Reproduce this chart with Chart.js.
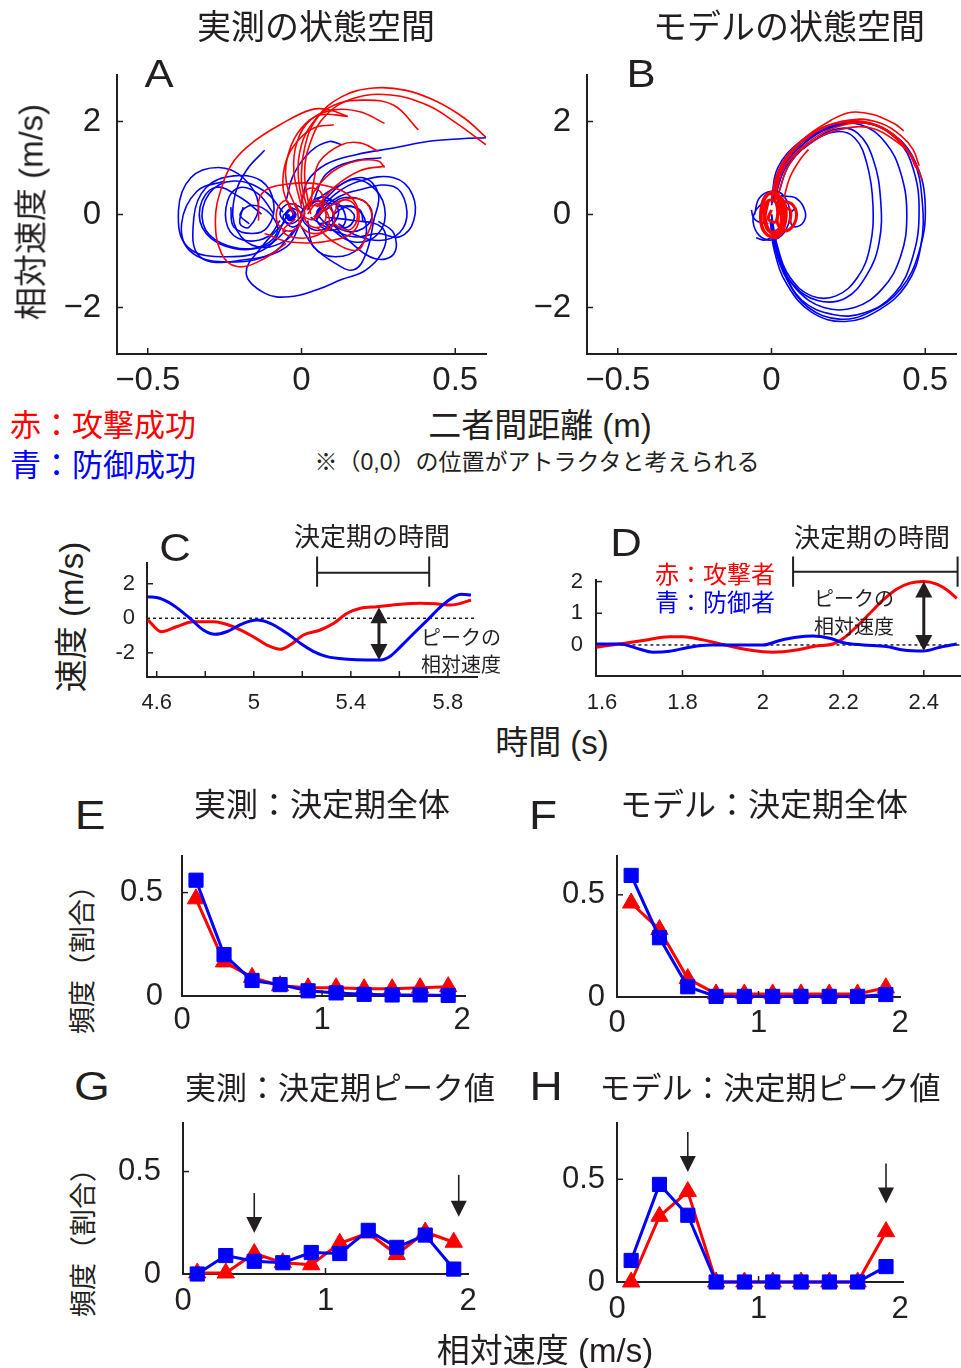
<!DOCTYPE html>
<html>
<head>
<meta charset="utf-8">
<script src="https://cdn.jsdelivr.net/npm/chart.js@4"></script>
<style>
body { margin: 0; background: #fff; }
#page { position: relative; width: 961px; height: 1368px; overflow: hidden; font-family: "Liberation Sans", "Noto Sans CJK JP", sans-serif; color: #231f20; }
canvas { position: absolute; }
.t { position: absolute; white-space: nowrap; line-height: 1; transform: translate(-50%, -50%); }
.v { position: absolute; white-space: nowrap; line-height: 1; transform: translate(-50%, -50%) rotate(-90deg); }
.k { position: absolute; white-space: nowrap; line-height: 1; transform: translate(-50%, -50%) scaleX(1.15); font-family: "Liberation Sans"; }
.r { color: #ff0000; }
.b { color: #0000ff; }
</style>
</head>
<body>
<div id="page">
  <canvas id="cA"></canvas>
  <canvas id="cB"></canvas>
  <canvas id="cC"></canvas>
  <canvas id="cD"></canvas>
  <canvas id="cE"></canvas>
  <canvas id="cF"></canvas>
  <canvas id="cG"></canvas>
  <canvas id="cH"></canvas>

  <div class="t" style="left:316px;top:27px;font-size:34px">実測の状態空間</div>
  <div class="t" style="left:789px;top:27px;font-size:34px">モデルの状態空間</div>
  <div class="k" style="left:159px;top:74px;font-size:38px">A</div>
  <div class="k" style="left:641px;top:74px;font-size:38px">B</div>
  <div class="v" style="left:31px;top:212px;font-size:33px">相対速度 (m/s)</div>
  <div class="t r" style="left:103px;top:425px;font-size:31px">赤：攻撃成功</div>
  <div class="t b" style="left:103px;top:465px;font-size:31px">青：防御成功</div>
  <div class="t" style="left:540px;top:425px;font-size:33px">二者間距離 (m)</div>
  <div class="t" style="left:537px;top:462px;font-size:23px">※（0,0）の位置がアトラクタと考えられる</div>

  <div class="k" style="left:175px;top:548px;font-size:38px">C</div>
  <div class="k" style="left:626px;top:543px;font-size:38px">D</div>
  <div class="t" style="left:372px;top:537px;font-size:26px">決定期の時間</div>
  <div class="t" style="left:872px;top:538px;font-size:26px">決定期の時間</div>
  <div class="t" style="left:461px;top:638px;font-size:20px">ピークの</div>
  <div class="t" style="left:461px;top:665px;font-size:20px">相対速度</div>
  <div class="t" style="left:854px;top:599px;font-size:20px">ピークの</div>
  <div class="t" style="left:854px;top:627px;font-size:20px">相対速度</div>
  <div class="t r" style="left:715px;top:575px;font-size:24px">赤：攻撃者</div>
  <div class="t b" style="left:715px;top:603px;font-size:24px">青：防御者</div>
  <div class="v" style="left:71px;top:617px;font-size:33px">速度 (m/s)</div>
  <div class="t" style="left:552px;top:742px;font-size:33px">時間 (s)</div>

  <div class="k" style="left:90px;top:815px;font-size:40px">E</div>
  <div class="k" style="left:543px;top:815px;font-size:40px">F</div>
  <div class="k" style="left:92px;top:1086px;font-size:40px">G</div>
  <div class="k" style="left:546px;top:1086px;font-size:40px">H</div>
  <div class="t" style="left:322px;top:805px;font-size:32px">実測：決定期全体</div>
  <div class="t" style="left:764px;top:805px;font-size:32px">モデル：決定期全体</div>
  <div class="t" style="left:340px;top:1088px;font-size:31px">実測：決定期ピーク値</div>
  <div class="t" style="left:770px;top:1088px;font-size:31px">モデル：決定期ピーク値</div>
  <div class="v" style="left:83px;top:953px;font-size:27px">頻度（割合）</div>
  <div class="v" style="left:84px;top:1236px;font-size:27px">頻度（割合）</div>
  <div class="t" style="left:545px;top:1350px;font-size:33px">相対速度 (m/s)</div>
</div>

<script>
'use strict';

const INK = '#231f20';
const RED = '#ff0000';
const BLUE = '#0000ff';

// A, B: state space, distance (m) vs relative speed (m/s)
const spaceXTicks = [-0.5, 0, 0.5];
const spaceXLabels = ['\u22120.5', '0', '0.5'];
const spaceYTicks = [-2, 0, 2];
const spaceYLabels = ['\u22122', '0', '2'];

const aRed = [
  [[0.02,0.09],[0,0.72],[0.01,1.43],[0.05,2.07],[0.13,2.53],[0.235,2.72],[0.34,2.67],[0.44,2.43],[0.53,2.07],[0.6,1.66]],
  [[0.03,0.01],[0.01,0.87],[0.03,1.57],[0.08,2.14],[0.17,2.50],[0.29,2.57],[0.41,2.35],[0.505,1.96],[0.6,1.50]],
  [[0.01,0.09],[-0.01,0.79],[0,1.50],[0.04,2.0],[0.105,2.35],[0.20,2.46],[0.30,2.35],[0.38,1.82]],
  [[0,0.16],[-0.025,0.94],[-0.014,1.57],[0.03,2.04],[0.105,2.25],[0.19,2.21],[0.27,1.96]],
  [[-0.014,0.09],[-0.05,0.72],[-0.04,1.36],[0,1.86],[0.06,2.14],[0.15,2.11]],
  [[-0.05,-0.62],[-0.13,-0.98],[-0.21,-1.12],[-0.26,-0.84],[-0.28,-0.13],[-0.26,0.58],[-0.22,1.15],[-0.155,1.57],[-0.07,1.93],[0.03,2.25],[0.09,2.25],[0.15,2.11]],
  [[0.05,0.16],[0.105,0.58],[0.19,0.94],[0.27,1.04]],
  [[-0.036,0.09],[-0.06,0.58],[-0.05,1.15],[-0.014,1.57],[0.04,1.86],[0.105,1.93]],
  [[0.03,0.16],[0.04,0.72],[0.06,1.15],[0.13,1.50],[0.19,1.54],[0.25,1.36]],
  [[0.02,0.23],[0.05,0.58],[0.105,0.94],[0.18,1.15],[0.25,1.15],[0.27,1.01]],
  [[0.04,-0.06],[0.13,0.30],[0.20,0.30],[0.23,-0.06],[0.21,-0.48],[0.18,-0.77],[0.105,-0.59],[0.05,-0.27]],
  [[-0.14,-0.13],[-0.13,0.44],[-0.05,0.65],[0.08,0.62],[0.17,0.30],[0.18,-0.27],[0.105,-0.55],[-0.036,-0.59],[-0.12,-0.41]],
  [[0.02,0.01],[0.05,0.23],[0.08,0.01],[0.06,-0.27],[0.02,-0.20],[0.01,0.09],[0.04,0.30],[0.09,0.16],[0.105,-0.20],[0.05,-0.41],[0,-0.27],[-0.014,0.09]],
  [[-0.025,0.01],[-0.05,0.30],[-0.08,0.09],[-0.07,-0.27],[-0.025,-0.34],[0,-0.06],[-0.025,0.23]],
  [[0.105,0.01],[0.13,0.30],[0.17,0.23],[0.18,-0.13],[0.15,-0.34],[0.105,-0.20]],
  [[0,0.3],[0.02,0.55],[0.06,0.5],[0.07,0.2],[0.04,-0.1],[0,0],[-0.02,0.25]],
  [[-0.02,-0.1],[-0.06,-0.35],[-0.02,-0.5],[0.05,-0.45],[0.09,-0.2],[0.07,0.15],[0.02,0.2]]
];

const aBlue = [
  [[-0.05,-0.06],[-0.11,-0.70],[-0.24,-0.91],[-0.37,-0.70],[-0.40,0.09],[-0.36,0.79],[-0.27,1.01],[-0.19,0.79],[-0.14,0.23],[-0.17,-0.27],[-0.20,-0.20],[-0.19,0.16]],
  [[0,-0.13],[-0.05,-0.70],[-0.19,-0.98],[-0.33,-0.91],[-0.35,-0.06],[-0.31,0.58],[-0.22,0.83],[-0.13,0.72],[-0.09,0.23],[-0.11,-0.27],[-0.16,-0.41],[-0.22,-0.27],[-0.23,0.16]],
  [[-0.12,1.38],[-0.18,0.94],[-0.22,0.30],[-0.21,-0.34],[-0.14,-0.70],[-0.05,-0.55],[0,-0.13]],
  [[-0.05,-0.13],[-0.13,-0.70],[-0.18,-1.26],[-0.12,-1.69],[-0.04,-1.77],[0.05,-1.62],[0.13,-1.40],[0.21,-1.19],[0.27,-0.70],[0.26,-0.27],[0.17,-0.13],[0.08,-0.06]],
  [[0.04,-0.06],[0.11,0.44],[0.19,0.72],[0.30,0.79],[0.36,0.44],[0.365,-0.13],[0.32,-0.48],[0.25,-0.41],[0.17,-0.48],[0.08,-0.27],[0.03,-0.06]],
  [[0.02,0.16],[0.11,0.58],[0.20,0.79],[0.25,0.44],[0.235,-0.13],[0.21,-0.84],[0.17,-1.19],[0.11,-1.05],[0.04,-0.70],[0,-0.27]],
  [[0,0.23],[0.02,0.72],[0.08,1.08],[0.18,1.29],[0.30,1.43],[0.41,1.57],[0.52,1.63],[0.6,1.65]],
  [[-0.05,0.30],[-0.025,0.87],[0.03,1.36],[0.09,1.57],[0.13,1.50]],
  [[-0.09,0.01],[-0.14,0.44],[-0.20,0.58],[-0.24,0.30],[-0.24,-0.27],[-0.19,-0.55],[-0.11,-0.48],[-0.07,-0.13]],
  [[-0.13,0.01],[-0.20,0.37],[-0.28,0.58],[-0.33,0.16],[-0.31,-0.41],[-0.22,-0.73],[-0.11,-0.66],[-0.05,-0.34]],
  [[0.06,0.23],[0.15,0.72],[0.22,0.65],[0.27,0.16],[0.25,-0.41],[0.17,-0.59],[0.09,-0.27],[0.05,0.01]],
  [[0.04,0.30],[0.08,0.87],[0.17,1.15],[0.26,1.22]],
  [[0.02,-0.13],[0.04,-0.70],[0.11,-0.91],[0.19,-0.70],[0.21,-0.20],[0.17,0.16],[0.11,0.16]],
  [[-0.036,0.16],[0,0.01],[-0.036,-0.20],[-0.07,0.01],[-0.04,0.23],[0.01,0.05],[-0.025,-0.27],[-0.06,-0.06],[-0.036,0.12]],
  [[0.05,0.01],[0.08,0.30],[0.13,0.16],[0.14,-0.20],[0.09,-0.34],[0.05,-0.13],[0.06,0.16],[0.105,0.23],[0.17,0.01],[0.15,-0.27],[0.08,-0.20]],
  [[-0.06,0.05],[-0.12,0.5],[-0.22,0.72],[-0.3,0.45],[-0.32,-0.2],[-0.26,-0.62],[-0.15,-0.72],[-0.08,-0.4],[-0.1,0],[-0.16,0.2],[-0.2,0],[-0.17,-0.2]],
  [[0.05,-0.1],[0.1,0.3],[0.2,0.55],[0.3,0.6],[0.34,0.2],[0.33,-0.3],[0.27,-0.55],[0.18,-0.45],[0.12,-0.2]],
  [[-0.02,-0.3],[-0.1,-0.85],[-0.25,-1.02],[-0.36,-0.8],[-0.39,-0.2],[-0.34,0.5],[-0.25,0.72]],
  [[0.02,0.1],[0.05,0.35],[0.1,0.3],[0.12,0],[0.08,-0.3],[0.03,-0.3],[0,0],[0.03,0.25],[0.09,0.2],[0.1,-0.1],[0.06,-0.2]],
  [[0.1,-0.2],[0.16,-0.6],[0.24,-0.95],[0.3,-0.85],[0.3,-0.4],[0.25,-0.15]],
  [[0.08,0.1],[0.13,0.35],[0.2,0.3],[0.23,0],[0.2,-0.3],[0.14,-0.35],[0.1,-0.1],[0.14,0.15],[0.19,0.1],[0.2,-0.15]]
];

const aBlueBlob = [
  [[-0.036,0.12],[-0.02,0],[-0.036,-0.12],[-0.05,0],[-0.036,0.1],[-0.025,0],[-0.036,-0.08],[-0.045,0]]
];

const bRed = [
  [[0,0.3],[0.03,1.0],[0.1,1.6],[0.2,2.05],[0.26,2.2],[0.33,2.15],[0.4,1.95],[0.43,1.8]],
  [[0.01,0.3],[0.04,1.0],[0.12,1.55],[0.22,1.9],[0.32,1.95],[0.4,1.7],[0.46,1.2],[0.49,0.75]],
  [[0,0.35],[0.03,1.05],[0.1,1.6],[0.2,1.95],[0.3,2.0],[0.38,1.8],[0.44,1.4],[0.47,1.0]],
  [[0.02,0.4],[0.06,1.1],[0.14,1.6],[0.24,1.85],[0.33,1.85],[0.41,1.55],[0.46,1.25]],
  [[0,0.3],[0.02,0.9],[0.08,1.45],[0.16,1.85],[0.24,1.98],[0.32,1.95],[0.39,1.72],[0.45,1.3],[0.48,0.9]],
  [[0.04,0.35],[0.06,0.8],[0.09,1.15],[0.12,1.4]],
  [[0.01,0.3],[0.03,0.95],[0.09,1.5],[0.18,1.9],[0.28,2.05],[0.36,1.95],[0.42,1.7],[0.46,1.4],[0.48,1.05]]
];

const bRedBlob = [
  [[0,0.45],[0.035,0.3],[0.04,-0.1],[0.02,-0.45],[-0.02,-0.4],[-0.035,0],[-0.02,0.4],[0.01,0.42],[0.03,0.1],[0.025,-0.3],[-0.01,-0.35],[-0.025,0.05],[-0.01,0.3],[0.015,0.25],[0.015,-0.15],[-0.01,-0.1],[0,0.1]],
  [[0.01,0.5],[0.045,0.2],[0.04,-0.3],[0.01,-0.5],[-0.03,-0.3],[-0.03,0.2],[0,0.48],[0.03,0.3],[0.035,-0.2],[0.005,-0.42],[-0.02,-0.1],[-0.01,0.3]],
  [[0.03,0.3],[0.07,0.2],[0.08,-0.1],[0.05,-0.35],[0.02,-0.2],[0.03,0.1],[0.06,0.1],[0.06,-0.2]]
];

const bBlue = [
  [[0,0.2],[0.03,0.9],[0.1,1.5],[0.2,1.9],[0.3,1.98],[0.4,1.7],[0.47,1.1],[0.5,0.2],[0.48,-0.8],[0.42,-1.6],[0.32,-2.1],[0.22,-2.25],[0.12,-2.0],[0.05,-1.4],[0.01,-0.7],[0,-0.1]],
  [[0.01,0.3],[0.04,1.0],[0.12,1.6],[0.22,1.92],[0.32,1.95],[0.41,1.6],[0.46,1.0],[0.48,0.1],[0.46,-0.9],[0.40,-1.7],[0.30,-2.12],[0.2,-2.15],[0.1,-1.85],[0.04,-1.2],[0.01,-0.5],[0,0]],
  [[0,0.25],[0.03,0.95],[0.1,1.55],[0.2,1.9],[0.29,1.93],[0.37,1.55],[0.42,0.9],[0.44,0],[0.42,-0.9],[0.36,-1.6],[0.27,-2.0],[0.17,-2.0],[0.08,-1.6],[0.03,-1.0],[0,-0.3]],
  [[0.02,0.4],[0.06,1.1],[0.14,1.6],[0.22,1.85],[0.28,1.75],[0.33,1.2],[0.355,0.3],[0.35,-0.6],[0.31,-1.3],[0.24,-1.8],[0.15,-1.85],[0.07,-1.5],[0.02,-0.9],[0,-0.2]],
  [[0.01,0.35],[0.05,1.05],[0.13,1.55],[0.21,1.78],[0.27,1.65],[0.31,1.1],[0.33,0.2],[0.32,-0.7],[0.28,-1.35],[0.21,-1.75],[0.13,-1.75],[0.06,-1.35],[0.02,-0.7],[0,0]],
  [[0,0.3],[0.02,1.0],[0.09,1.55],[0.18,1.88],[0.29,1.98],[0.39,1.75],[0.46,1.2],[0.49,0.3],[0.485,-0.7],[0.44,-1.5],[0.35,-2.05],[0.24,-2.3],[0.13,-2.1],[0.05,-1.5],[0.01,-0.8],[-0.005,-0.1]]
];

const bBlueBlob = [
  [[-0.02,0.3],[-0.05,0.1],[-0.06,-0.15],[-0.04,-0.45],[0,-0.55],[0.04,-0.4],[0.06,0],[0.04,0.4],[0,0.5],[-0.04,0.35],[-0.055,0]],
  [[0.03,0.4],[0.08,0.35],[0.11,0.05],[0.1,-0.2],[0.07,-0.25],[0.06,0],[0.08,0.15]],
  [[-0.01,-0.2],[-0.045,-0.15],[-0.06,-0.05],[-0.065,0.1]],
  [[0.02,-0.4],[-0.02,-0.55],[-0.05,-0.5]]
];

// C, D: speed time series
const cXTicks = [4.6, 5, 5.4, 5.8];
const cXLabels = ['4.6', '5', '5.4', '5.8'];
const cXMinor = [4.6, 4.8, 5, 5.2, 5.4, 5.6, 5.8];
const cYTicks = [-2, 0, 2];
const cYLabels = ['-2', '0', '2'];
const cRedT = [4.564,4.619,4.681,4.75,4.833,4.916,4.998,5.054,5.109,5.15,5.205,5.274,5.33,5.385,5.44,5.509,5.605,5.688,5.757,5.812,5.854,5.895];
const cRedV = [-0.1,-0.78,-0.49,-0.2,-0.2,-0.49,-1.07,-1.55,-1.8,-1.55,-0.97,-0.68,-0.29,0.29,0.58,0.67,0.81,0.87,0.83,0.77,0.87,1.06];
const cBlueT = [4.564,4.612,4.667,4.737,4.792,4.84,4.888,4.957,5.013,5.068,5.137,5.192,5.247,5.302,5.385,5.468,5.523,5.564,5.605,5.66,5.716,5.771,5.826,5.854,5.895];
const cBlueV = [1.25,1.16,0.77,0,-0.68,-0.93,-0.78,-0.29,-0.1,-0.29,-0.87,-1.45,-1.93,-2.22,-2.37,-2.41,-2.41,-2.18,-1.64,-0.87,-0.1,0.67,1.25,1.39,1.35];

const dXTicks = [1.6, 1.8, 2, 2.2, 2.4];
const dXLabels = ['1.6', '1.8', '2', '2.2', '2.4'];
const dYTicks = [0, 1, 2];
const dYLabels = ['0', '1', '2'];
const dRedT = [1.586,1.644,1.702,1.768,1.801,1.851,1.909,1.967,2.025,2.083,2.133,2.174,2.2,2.233,2.266,2.299,2.332,2.366,2.399,2.432,2.457,2.482];
const dRedV = [-0.07,0.03,0.14,0.26,0.26,0.16,-0.01,-0.16,-0.23,-0.16,-0.03,0.03,0.21,0.58,1.0,1.42,1.76,1.95,2.0,1.92,1.74,1.47];
const dBlueT = [1.586,1.644,1.685,1.727,1.768,1.818,1.868,1.934,2.0,2.042,2.083,2.124,2.166,2.2,2.249,2.307,2.349,2.399,2.44,2.482];
const dBlueV = [0.03,0.03,-0.1,-0.23,-0.2,-0.07,0,0,0,0.14,0.24,0.28,0.21,0.07,0,-0.05,-0.16,-0.19,-0.07,0.03];

// E-H: frequency (ratio) per relative speed bin
const bins = [0.1, 0.3, 0.5, 0.7, 0.9, 1.1, 1.3, 1.5, 1.7, 1.9];
const histXTicks = [0, 1, 2];
const histXLabels = ['0', '1', '2'];
const histYTicks = [0, 0.5];
const histYLabels = ['0', '0.5'];
const eRed  = [0.47, 0.165, 0.09, 0.05, 0.04, 0.04, 0.035, 0.035, 0.04, 0.045];
const eBlue = [0.56, 0.2, 0.075, 0.055, 0.025, 0.015, 0.008, 0.005, 0.005, 0.003];
const fRed  = [0.46, 0.33, 0.09, 0.015, 0.015, 0.015, 0.015, 0.015, 0.015, 0.045];
const fBlue = [0.595, 0.29, 0.05, 0.003, 0.003, 0.003, 0.003, 0.003, 0.003, 0.012];
const gRed  = [0.005, 0.005, 0.1, 0.055, 0.045, 0.15, 0.2, 0.095, 0.205, 0.155];
const gBlue = [0, 0.09, 0.062, 0.055, 0.105, 0.1, 0.213, 0.13, 0.19, 0.024];
const hRed  = [0, 0.32, 0.44, 0, 0, 0, 0, 0, 0, 0.245];
const hBlue = [0.105, 0.475, 0.325, 0, 0, 0, 0, 0, 0, 0.075];

// arrows marking the peak values, [x, from y, to y]
const gArrows = [[0.5, 0.395, 0.2], [1.935, 0.484, 0.28]];
const hArrows = [[0.5, 0.73, 0.536], [1.9, 0.577, 0.382]];

// little decorations: inward ticks, brackets, arrows
const decoPlugin = {
  id: 'deco',
  afterDraw(chart, args, o) {
    const { ctx, chartArea: a } = chart;
    const x = chart.scales.x, y = chart.scales.y;
    ctx.save();
    ctx.strokeStyle = INK;
    ctx.fillStyle = INK;
    ctx.lineWidth = 1.5;
    (o.ticksX || []).forEach(v => {
      const px = x.getPixelForValue(v);
      ctx.beginPath(); ctx.moveTo(px, a.bottom); ctx.lineTo(px, a.bottom - 6); ctx.stroke();
    });
    (o.ticksY || []).forEach(v => {
      const py = y.getPixelForValue(v);
      ctx.beginPath(); ctx.moveTo(a.left, py); ctx.lineTo(a.left + 6, py); ctx.stroke();
    });
    ctx.lineWidth = 2;
    (o.brackets || []).forEach(([x0, x1, yy, hi, lo]) => {
      const p0 = x.getPixelForValue(x0), p1 = x.getPixelForValue(x1);
      const py = y.getPixelForValue(yy), ph = y.getPixelForValue(hi), pl = y.getPixelForValue(lo);
      ctx.beginPath();
      ctx.moveTo(p0, py); ctx.lineTo(p1, py);
      ctx.moveTo(p0, ph); ctx.lineTo(p0, pl);
      ctx.moveTo(p1, ph); ctx.lineTo(p1, pl);
      ctx.stroke();
    });
    const head = (px, tip, dir, w, h) => {
      ctx.beginPath();
      ctx.moveTo(px, tip);
      ctx.lineTo(px - w / 2, tip - dir * h);
      ctx.lineTo(px + w / 2, tip - dir * h);
      ctx.closePath();
      ctx.fill();
    };
    (o.arrows || []).forEach(([xv, y0, y1]) => {
      const px = x.getPixelForValue(xv), p0 = y.getPixelForValue(y0), p1 = y.getPixelForValue(y1);
      ctx.lineWidth = 1.6;
      ctx.beginPath(); ctx.moveTo(px, p0); ctx.lineTo(px, p1 - 10); ctx.stroke();
      head(px, p1, 1, 16, 16);
    });
    (o.dbl || []).forEach(([xv, y0, y1]) => {
      const px = x.getPixelForValue(xv), p0 = y.getPixelForValue(y0), p1 = y.getPixelForValue(y1);
      ctx.lineWidth = 3;
      ctx.beginPath(); ctx.moveTo(px, p0 + 10); ctx.lineTo(px, p1 - 10); ctx.stroke();
      head(px, p0, -1, 17, 16);
      head(px, p1, 1, 17, 16);
    });
    ctx.restore();
  }
};

function scaleOpts(s, size, isX) {
  return {
    type: 'linear',
    min: s.min,
    max: s.max,
    afterBuildTicks: sc => { sc.ticks = s.ticks.map(v => ({ value: v })); },
    afterFit: sc => { if (isX) sc.height = size; else sc.width = size; },
    ticks: {
      autoSkip: false, maxRotation: 0, padding: s.pad, color: INK,
      font: { family: 'Liberation Sans', size: s.font },
      callback: (v, i) => s.labels[i]
    },
    grid: { display: true, drawOnChartArea: false, drawTicks: false },
    border: { display: true, color: INK, width: 2 }
  };
}

function panel(id, area, pad, sx, sy, datasets, deco) {
  const cv = document.getElementById(id);
  const w = area[2] - area[0] + pad[0] + pad[2];
  const h = area[3] - area[1] + pad[1] + pad[3];
  cv.width = w;
  cv.height = h;
  cv.style.width = w + 'px';
  cv.style.height = h + 'px';
  cv.style.left = (area[0] - pad[0]) + 'px';
  cv.style.top = (area[1] - pad[1]) + 'px';
  return new Chart(cv, {
    type: 'scatter',
    data: { datasets: datasets },
    options: {
      responsive: false,
      animation: false,
      devicePixelRatio: 1,
      layout: { padding: { left: 0, top: pad[1], right: pad[2], bottom: 0 } },
      plugins: { legend: { display: false }, tooltip: { enabled: false }, deco: deco },
      scales: { x: scaleOpts(sx, pad[3], true), y: scaleOpts(sy, pad[0], false) }
    },
    plugins: [decoPlugin]
  });
}

function traj(list, color, width) {
  return list.map(tr => ({
    data: tr.map(p => ({ x: p[0], y: p[1] })),
    showLine: true, borderColor: color, borderWidth: width,
    pointRadius: 0, tension: 0.4, fill: false
  }));
}

function series(ts, vs, color) {
  return {
    data: ts.map((t, i) => ({ x: t, y: vs[i] })),
    showLine: true, borderColor: color, borderWidth: 3,
    pointRadius: 0, cubicInterpolationMode: 'monotone', fill: false
  };
}

function zeroLine(x0, x1) {
  return {
    data: [{ x: x0, y: 0 }, { x: x1, y: 0 }],
    showLine: true, borderColor: INK, borderWidth: 1.5, borderDash: [3, 3],
    pointRadius: 0, fill: false
  };
}

function hist(vals, color, style) {
  return {
    data: bins.map((b, i) => ({ x: b, y: vals[i] })),
    showLine: true, borderColor: color, backgroundColor: color, borderWidth: 3,
    pointStyle: style, pointRadius: 10, pointBorderWidth: 1, pointBorderColor: color,
    tension: 0, clip: false
  };
}

const spaceX = { min: -0.6, max: 0.6, ticks: spaceXTicks, labels: spaceXLabels, font: 33, pad: 7 };
const spaceY = { min: -3, max: 3, ticks: spaceYTicks, labels: spaceYLabels, font: 33, pad: 16 };

panel('cA', [117, 75, 486, 354], [80, 45, 10, 50], spaceX, spaceY,
  [...traj(aRed, RED, 1.6), ...traj(aBlueBlob, BLUE, 3), ...traj(aBlue, BLUE, 1.6)],
  { ticksX: spaceXTicks, ticksY: spaceYTicks });

panel('cB', [587, 75, 956, 354], [80, 45, 4, 50], spaceX, spaceY,
  [...traj(bRedBlob, RED, 3), ...traj(bRed, RED, 1.6), ...traj(bBlueBlob, BLUE, 1.6), ...traj(bBlue, BLUE, 1.6)],
  { ticksX: spaceXTicks, ticksY: spaceYTicks });

panel('cC', [147, 563, 477, 677], [50, 30, 10, 40],
  { min: 4.56, max: 5.92, ticks: cXTicks, labels: cXLabels, font: 22, pad: 13 },
  { min: -3.4, max: 3.2, ticks: cYTicks, labels: cYLabels, font: 22, pad: 12 },
  [series(cBlueT, cBlueV, BLUE), series(cRedT, cRedV, RED), zeroLine(4.56, 5.91)],
  { ticksX: cXMinor, ticksY: [2, -2], brackets: [[5.261, 5.723, 2.64, 3.57, 1.83]], dbl: [[5.516, 0.64, -2.41]] });

panel('cD', [596, 580, 960, 676], [40, 30, 1, 40],
  { min: 1.585, max: 2.49, ticks: dXTicks, labels: dXLabels, font: 22, pad: 14 },
  { min: -0.98, max: 2.05, ticks: dYTicks, labels: dYLabels, font: 22, pad: 13 },
  [series(dBlueT, dBlueV, BLUE), series(dRedT, dRedV, RED), zeroLine(1.586, 2.49)],
  { ticksX: [1.8, 2, 2.2, 2.4], ticksY: [1, 2], brackets: [[2.075, 2.484, 2.31, 2.79, 1.84]], dbl: [[2.4, 2.0, -0.19]] });

const histX = (max, pad) => ({ min: 0, max: max, ticks: histXTicks, labels: histXLabels, font: 31, pad: pad });
const histY = (max, pad) => ({ min: 0, max: max, ticks: histYTicks, labels: histYLabels, font: 31, pad: pad });

panel('cE', [182, 856, 465, 996], [70, 45, 20, 50], histX(2.02, 6), histY(0.677, 19),
  [hist(eBlue, BLUE, 'rect'), hist(eRed, RED, 'triangle')],
  { ticksX: [1], ticksY: [0.5] });

panel('cF', [617, 856, 900, 997], [60, 45, 20, 50], histX(2.0, 8), histY(0.69, 12),
  [hist(fBlue, BLUE, 'rect'), hist(fRed, RED, 'triangle')],
  { ticksX: [1], ticksY: [0.5] });

panel('cG', [183, 1123, 468, 1274], [70, 45, 20, 50], histX(2.0, 9), histY(0.737, 22),
  [hist(gBlue, BLUE, 'rect'), hist(gRed, RED, 'triangle')],
  { ticksX: [1], ticksY: [0.5], arrows: gArrows });

panel('cH', [617, 1123, 903, 1282], [60, 45, 20, 50], histX(2.02, 9), histY(0.774, 12),
  [hist(hBlue, BLUE, 'rect'), hist(hRed, RED, 'triangle')],
  { ticksX: [1], ticksY: [0.5], arrows: hArrows });
</script>
</body>
</html>
